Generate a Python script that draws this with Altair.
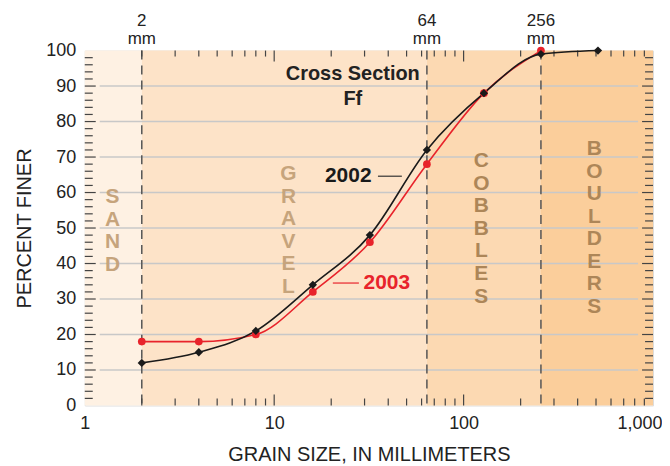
import altair as alt
import pandas as pd

# ---------------- data ----------------
grain_2002 = [2, 4, 8, 16, 32, 64, 128, 256, 512]
pct_2002 = [12, 15, 21, 34, 48, 72, 88, 99, 100]
grain_2003 = [2, 4, 8, 16, 32, 64, 128, 256]
pct_2003 = [18, 18, 20, 32, 46, 68, 88, 100]

zone_start = [1, 2, 64, 256]
zone_end = [2, 64, 256, 1000]
zone_color = ["#FEF1E3", "#FDE3C8", "#FCD9B2", "#FBCE9B"]

zone_names = ["SAND", "GRAVEL", "COBBLES", "BOULDERS"]
zone_label_x = [1.4, 11.9, 124, 490]
zone_label_top = [58.7, 65.2, 68.8, 72.2]     # percent level of the first letter
zone_letter_step = 6.35                        # percent units between stacked letters
zone_label_color = ["#C6A47C", "#C6A47C", "#AD8658", "#AD8658"]

boundaries = [2, 64, 256]
boundary_numbers = ["2", "64", "256"]
boundary_units = ["mm", "mm", "mm"]

grid_y = [10, 20, 30, 40, 50, 60, 70, 80, 90]
y_minor = [v for v in range(2, 100, 2) if v % 10 != 0]
y_major = [10, 20, 30, 40, 50, 60, 70, 80, 90]
x_minor = [2, 3, 4, 5, 6, 7, 8, 9, 20, 30, 40, 50, 60, 70, 80, 90,
           200, 300, 400, 500, 600, 700, 800, 900]
x_major = [10, 100]
x_labels = [1, 10, 100, 1000]
y_labels = [0, 10, 20, 30, 40, 50, 60, 70, 80, 90, 100]

W, H = 570, 356
FONT = "Liberation Sans"

xs = alt.Scale(type="log", domain=[1, 1000], nice=False)
ys = alt.Scale(domain=[0, 100], nice=False, zero=False)

xax = alt.Axis(values=x_labels, format=",", title="GRAIN SIZE, IN MILLIMETERS",
               ticks=False, domain=False, grid=False, labelFontSize=18, labelFlush=False,
               labelAlign={"condition": {"test": "datum.value >= 1000", "value": "right"},
                           "value": "center"},
               labelOffset={"condition": {"test": "datum.value >= 1000", "value": 9},
                            "value": 0},
               labelColor="#222", labelPadding=9, titleFontSize=20,
               titleFontWeight="normal", titleColor="#222", titlePadding=12,
               labelFont=FONT, titleFont=FONT)
yax = alt.Axis(values=y_labels, title="PERCENT FINER", ticks=False, domain=False, grid=False,
               labelFontSize=18, labelColor="#222", labelPadding=9, labelFlush=False,
               titleFontSize=20, titleFontWeight="normal", titleColor="#222",
               titlePadding=11, labelFont=FONT, titleFont=FONT)


def X(f):
    return alt.X(f, scale=xs, axis=xax)


def Y(f):
    return alt.Y(f, scale=ys, axis=yax)


zones = pd.DataFrame({"x0": zone_start, "x1": zone_end, "c": zone_color})
zone_rect = alt.Chart(zones).mark_rect().encode(
    x=X("x0:Q"), x2="x1:Q",
    y=alt.value(0), y2=alt.value(H),
    color=alt.Color("c:N", scale=None),
)

grid = alt.Chart(pd.DataFrame({"y": grid_y})).mark_rule(color="#C8C8C8", strokeWidth=1.5).encode(
    y=Y("y:Q"), x=alt.value(15), x2=alt.value(W - 15),
)

dashed = alt.Chart(pd.DataFrame({"x": boundaries})).mark_rule(
    color="#555", strokeWidth=1.5, strokeDash=[9, 6]).encode(
    x=X("x:Q"), y=alt.value(0), y2=alt.value(H))

top_num = alt.Chart(pd.DataFrame({"x": boundaries, "t": boundary_numbers, "y": [100] * 3})).mark_text(
    font=FONT, fontSize=17, color="#222", baseline="alphabetic", dy=-25).encode(
    x=X("x:Q"), y=Y("y:Q"), text="t:N")
top_unit = alt.Chart(pd.DataFrame({"x": boundaries, "t": boundary_units, "y": [100] * 3})).mark_text(
    font=FONT, fontSize=17, color="#222", baseline="alphabetic", dy=-7).encode(
    x=X("x:Q"), y=Y("y:Q"), text="t:N")

tick_col = "#444"
ymin_df = pd.DataFrame({"y": y_minor})
ymaj_df = pd.DataFrame({"y": y_major})
xmin_df = pd.DataFrame({"x": x_minor})
xmaj_df = pd.DataFrame({"x": x_major})


def yticks(df, x_a, x_b):
    return alt.Chart(df).mark_rule(color=tick_col, strokeWidth=1.2).encode(
        y=Y("y:Q"), x=alt.value(x_a), x2=alt.value(x_b))


def xticks(df, y_a, y_b):
    return alt.Chart(df).mark_rule(color=tick_col, strokeWidth=1.2).encode(
        x=X("x:Q"), y=alt.value(y_a), y2=alt.value(y_b))


ticks = [
    yticks(ymin_df, 0, 8), yticks(ymaj_df, 0, 11),
    yticks(ymin_df, W, W - 8), yticks(ymaj_df, W, W - 11),
    xticks(xmin_df, 0, 6), xticks(xmaj_df, 0, 11),
    xticks(xmin_df, H, H - 7), xticks(xmaj_df, H, H - 11),
]

d02 = pd.DataFrame({"g": grain_2002, "p": pct_2002})
d03 = pd.DataFrame({"g": grain_2003, "p": pct_2003})

RED = "#E8232B"
BLK = "#1A1A1A"
line03 = alt.Chart(d03).mark_line(color=RED, strokeWidth=1.6, interpolate="monotone").encode(
    x=X("g:Q"), y=Y("p:Q"))
pts03 = alt.Chart(d03).mark_point(shape="circle", filled=True, color=RED, size=60, opacity=1).encode(
    x=X("g:Q"), y=Y("p:Q"))
line02 = alt.Chart(d02).mark_line(color=BLK, strokeWidth=1.6, interpolate="monotone").encode(
    x=X("g:Q"), y=Y("p:Q"))
pts02 = alt.Chart(d02).mark_point(shape="diamond", filled=True, color=BLK, size=70, opacity=1).encode(
    x=X("g:Q"), y=Y("p:Q"))

rows = []
for name, lx, ltop, lc in zip(zone_names, zone_label_x, zone_label_top, zone_label_color):
    for i, ch in enumerate(name):
        rows.append({"x": lx, "y": ltop - i * zone_letter_step, "t": ch, "c": lc})
zl = pd.DataFrame(rows)
zone_txt = alt.Chart(zl).mark_text(font=FONT, fontSize=21, fontWeight="bold", baseline="middle",
                                   opacity=1).encode(
    x=X("x:Q"), y=Y("y:Q"), text="t:N",
    color=alt.Color("c:N", scale=None))

title_df = pd.DataFrame({"x": [26, 26], "y": [93.3, 86.3], "t": ["Cross Section", "Ff"]})
title_txt = alt.Chart(title_df).mark_text(font=FONT, fontSize=20, fontWeight="bold", color="#222",
                                          baseline="middle").encode(
    x=X("x:Q"), y=Y("y:Q"), text="t:N")

lab02 = alt.Chart(pd.DataFrame({"x": [24.6], "y": [64.6], "t": ["2002"]})).mark_text(
    font=FONT, fontSize=21, fontWeight="bold", color=BLK, baseline="middle").encode(
    x=X("x:Q"), y=Y("y:Q"), text="t:N")
lead02 = alt.Chart(pd.DataFrame({"x": [35.3], "x2": [47.2], "y": [64.6]})).mark_rule(
    color="#333", strokeWidth=1.2).encode(
    x=X("x:Q"), x2="x2:Q", y=Y("y:Q"))
lab03 = alt.Chart(pd.DataFrame({"x": [39.3], "y": [34.5], "t": ["2003"]})).mark_text(
    font=FONT, fontSize=21, fontWeight="bold", color=RED, baseline="middle").encode(
    x=X("x:Q"), y=Y("y:Q"), text="t:N")
lead03 = alt.Chart(pd.DataFrame({"x": [20.4], "x2": [28.0], "y": [34.5]})).mark_rule(
    color=RED, strokeWidth=1.2).encode(
    x=X("x:Q"), x2="x2:Q", y=Y("y:Q"))

chart = alt.layer(
    zone_rect, grid, dashed, *ticks, zone_txt, title_txt,
    line03, line02, pts03, pts02, lab02, lead02, lab03, lead03, top_num, top_unit,
).properties(
    width=W, height=H,
    padding={"left": 6, "top": 3, "right": 0, "bottom": 0},
).configure_view(
    stroke="#555", strokeWidth=1.5
).configure(background="white")

chart.save("out.html", embed_options={"renderer": "svg", "actions": False})
